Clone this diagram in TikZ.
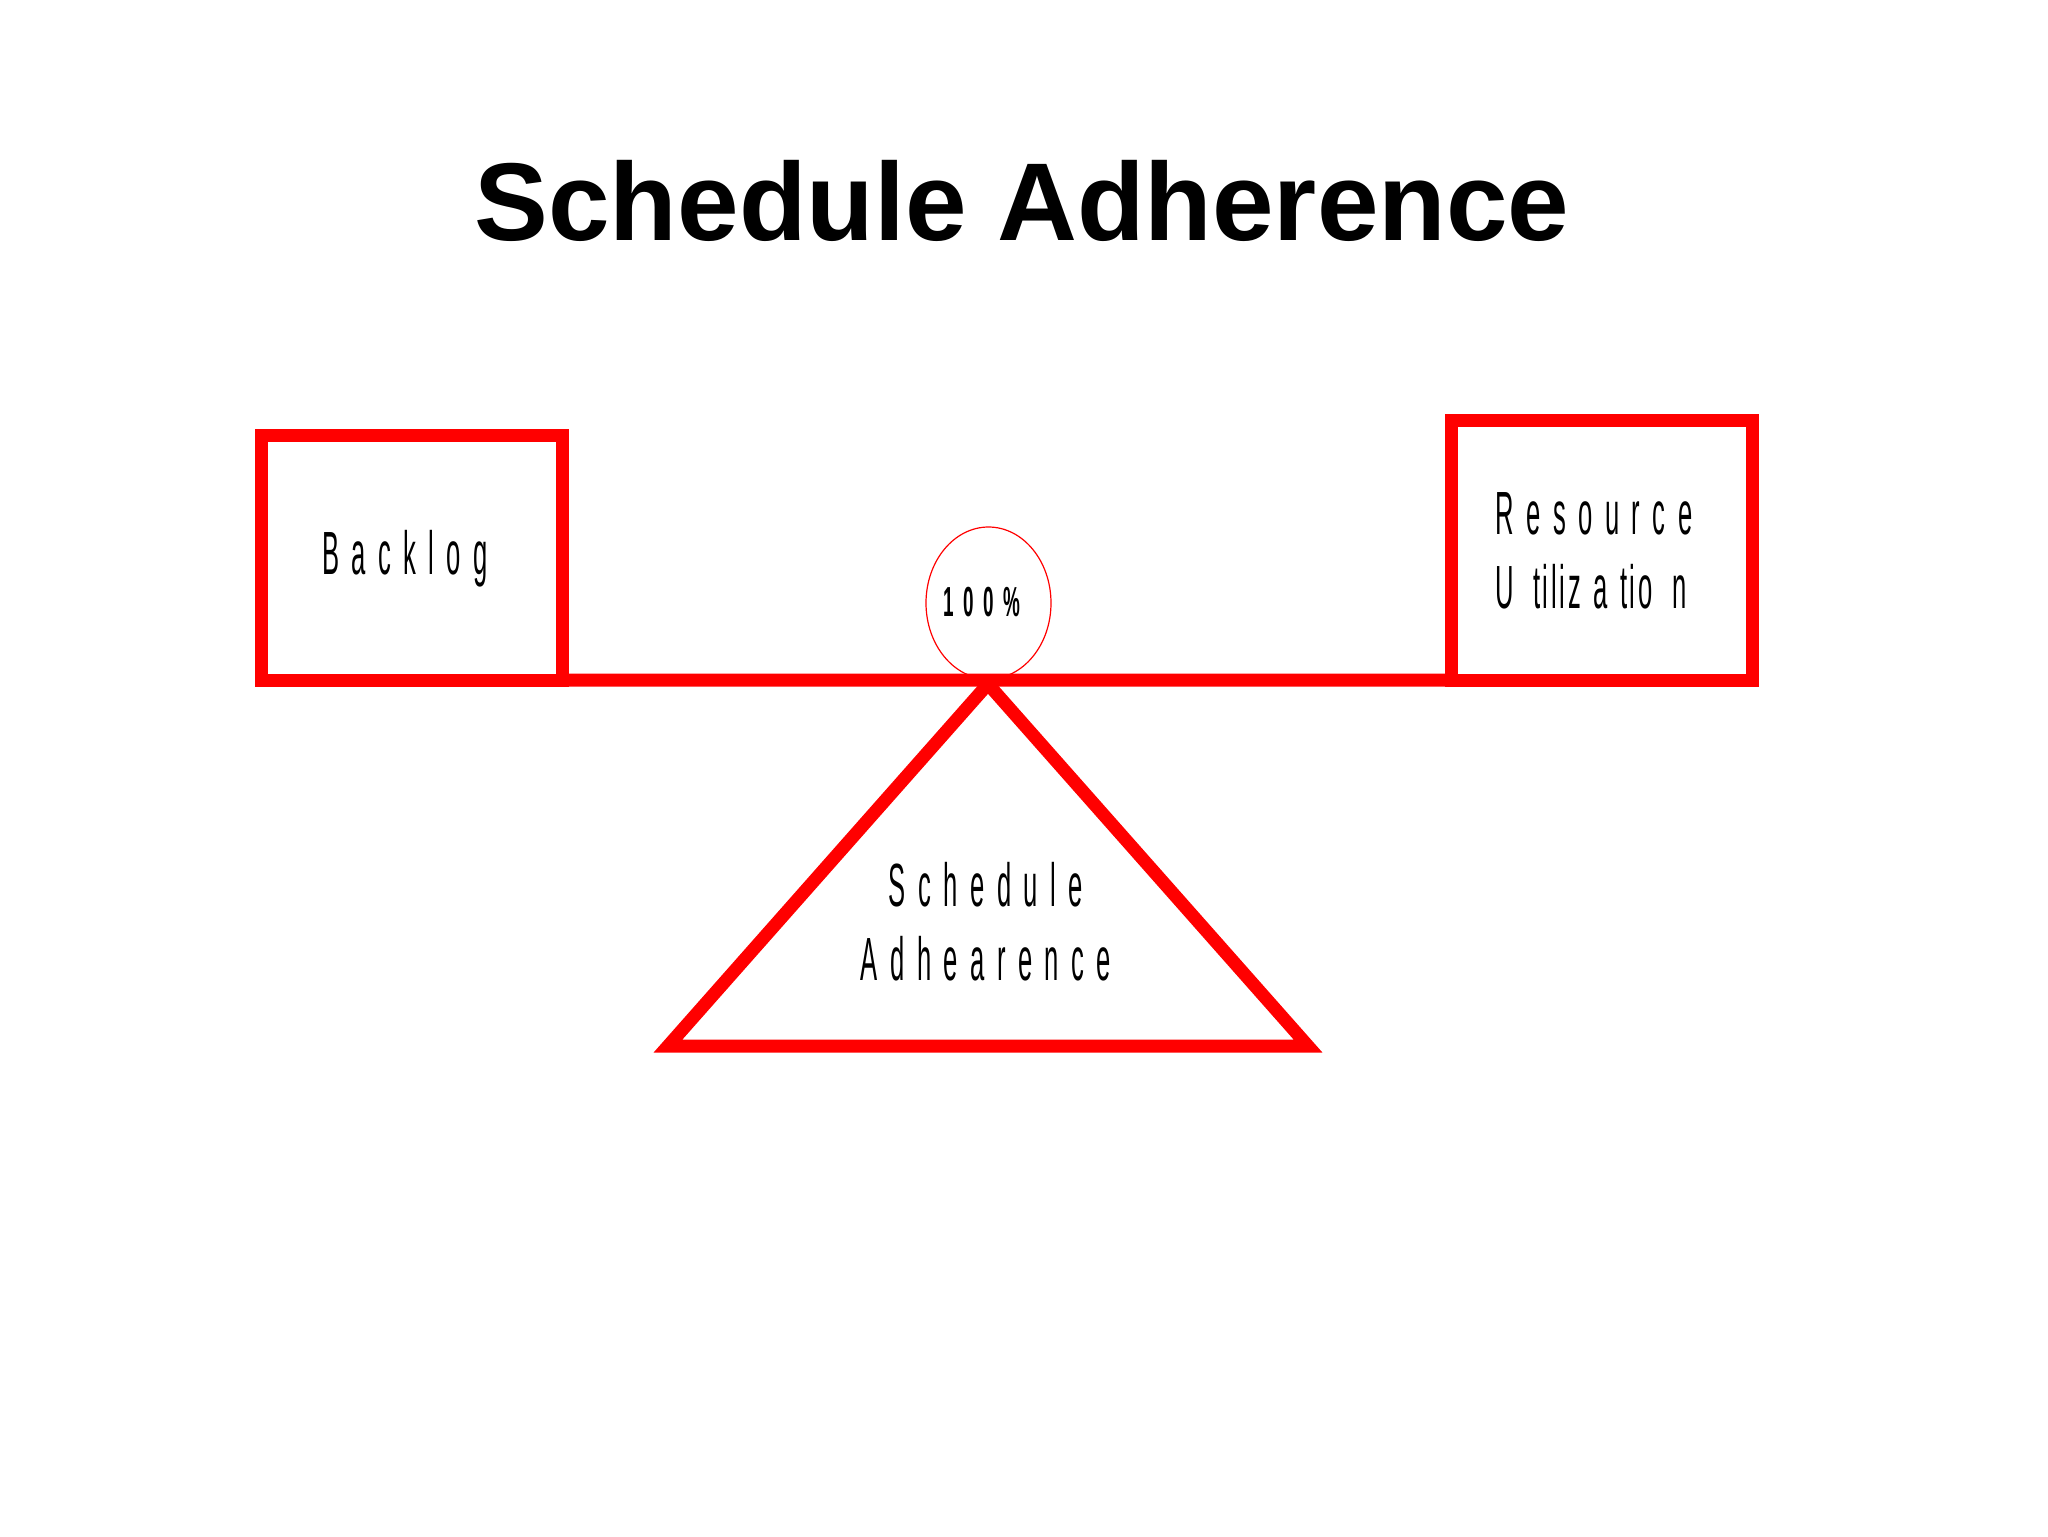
\documentclass[tikz,border=0pt]{standalone}
\usepackage{fontspec}
\setmainfont{Liberation Sans}
\newfontfamily\narrowfont[FakeStretch=0.42,WordSpace=1.75]{Liberation Sans}
\newfontfamily\pctfont[FakeStretch=0.45,WordSpace=1.8]{Liberation Sans}
\usepackage{xcolor}
\usetikzlibrary{shapes.geometric}
\usetikzlibrary{positioning}

\definecolor{scred}{RGB}{255,0,0}

\tikzset{
	balbox/.style={draw=scred, line width=9.75pt, fill=white, inner sep=0pt, outer sep=0pt},
	baltext/.style={align=left, font=\narrowfont\fontsize{45.75}{55.5}\selectfont},
	pctring/.style={ellipse, draw=scred, line width=0.9pt, fill=white, inner sep=0pt,
		minimum width=93.75pt, minimum height=114pt},
	beam/.style={draw=scred, line width=9.75pt},
}

\begin{document}
\begin{tikzpicture}[x=0.75pt,y=0.75pt,yscale=-1,xscale=1]
		\useasboundingbox (0,0) rectangle (2048,1536);
		
		%Title
		\node[anchor=base, font=\bfseries\fontsize{83}{90}\selectfont] (title) at (1022,240) {Schedule Adherence};
		
		%Shape: Ellipse [id:pct]
		\node[pctring] (pct) at (988.5,603) {};
		\node[font=\pctfont\bfseries\fontsize{31.5}{36}\selectfont] (pcttxt) at (982,602) {1 0 0 \%};
		
		%Shape: Triangle [id:fulcrum]
		\coordinate (apex) at (988,684);
		\coordinate (baseL) at (668,1046);
		\coordinate (baseR) at (1308,1046);
		\draw[beam, line join=miter] (apex) -- (baseL) -- (baseR) -- cycle;
		\node[baltext, align=center] (fulcrum) at (986,922) {S c h e d u l e\\A d h e a r e n c e};
		
		%Shape: Rectangle [id:backlog]
		\node[balbox, minimum width=225.75pt, minimum height=183.4pt] (backlog) at (412,557.75) {};
		\node[baltext] (backlogtxt) at (405,559) {B a c k l o g};
		%Shape: Rectangle [id:resource]
		\node[balbox, minimum width=225.75pt, minimum height=195pt] (resource) at (1602,550) {};
		\node[baltext] (resourcetxt) at (1594,551) {R e s o u r c e\\U\hspace{5pt} t\kern2pt i\kern2pt l\kern2pt i\kern2pt z a t\kern2pt i\kern2pt o\hspace{6pt} n};
		
		%Straight Lines [id:beam]
		\draw[beam] (backlog.south east) -- (resource.south west);
		
	\end{tikzpicture}
\end{document}
